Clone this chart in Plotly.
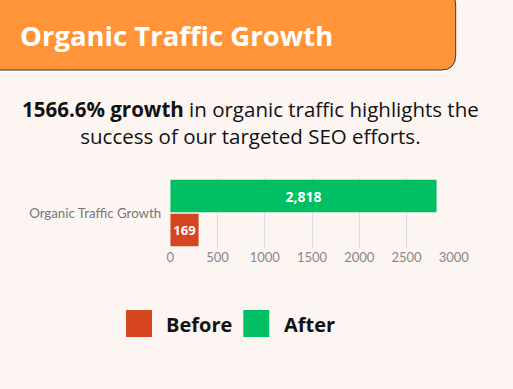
import plotly.graph_objects as go

W, H = 513, 389

# ---- data ----
categories = ["Organic Traffic Growth"]
before_values = [169]
after_values = [2818]
series_names = ["Before", "After"]
x_ticks = [0, 500, 1000, 1500, 2000, 2500, 3000]

# ---- style ----
BG = "#FDF5F2"
ORANGE = "#FF9538"
RED = "#D5451F"
GREEN = "#00BF63"
MIN_BAR = 300  # minimum visual bar length used by the original renderer


def px(x):
    return x / W


def py(y):
    return 1 - y / H


fig = go.Figure()
fig.add_trace(go.Bar(
    y=categories, x=[max(v, MIN_BAR) for v in before_values], orientation="h",
    name=series_names[0], marker=dict(color=RED, line=dict(width=0)),
    text=[f"{v:,}" for v in before_values], textposition="inside",
    insidetextanchor="middle", textangle=0,
    textfont=dict(family="Open Sans", size=16, color="white", weight="bold"),
    hoverinfo="skip",
))
fig.add_trace(go.Bar(
    y=categories, x=after_values, orientation="h",
    name=series_names[1], marker=dict(color=GREEN, line=dict(width=0)),
    text=[f"{v:,}" for v in after_values], textposition="inside",
    insidetextanchor="middle", textangle=0,
    textfont=dict(family="Open Sans", size=14, color="white", weight="bold"),
    hoverinfo="skip",
))

# header box path (rounded right corners)
x0, x1, y0, y1, r = -10, 470, -10, 70, 15
path = (f"M {px(x0)},{py(y0)} L {px(x1 - r)},{py(y0)} "
        f"Q {px(x1)},{py(y0)} {px(x1)},{py(y0 + r)} "
        f"L {px(x1)},{py(y1 - r)} Q {px(x1)},{py(y1)} {px(x1 - r)},{py(y1)} "
        f"L {px(x0)},{py(y1)} Z")

shapes = [dict(type="path", path=path, xref="paper", yref="paper",
               fillcolor=ORANGE, line=dict(color="#3a3a3a", width=1), layer="below")]

# legend squares
for xs, col in [(127, RED), (249, GREEN)]:
    shapes.append(dict(type="rect", xref="paper", yref="paper",
                       x0=px(xs), x1=px(xs + 27), y0=py(337), y1=py(310),
                       fillcolor=col, line=dict(width=0)))

annotations = [
    dict(text="<b>Organic Traffic Growth</b>", xref="paper", yref="paper",
         x=px(15), y=py(35), xanchor="left", yanchor="middle", showarrow=False,
         font=dict(family="Open Sans", size=27.5, color="white")),
    dict(text="<b>1566.6% growth</b> in organic traffic highlights the<br>success of our targeted SEO efforts.",
         xref="paper", yref="paper", x=0.5, y=py(122), xanchor="center", yanchor="middle",
         showarrow=False, align="center",
         font=dict(family="Open Sans", size=20.5, color="#111111")),
    dict(text="<b>" + series_names[0] + "</b>", xref="paper", yref="paper",
         x=px(167), y=py(324), xanchor="left", yanchor="middle", showarrow=False,
         font=dict(family="Open Sans", size=20, color="#111111")),
    dict(text="<b>" + series_names[1] + "</b>", xref="paper", yref="paper",
         x=px(289), y=py(324), xanchor="left", yanchor="middle", showarrow=False,
         font=dict(family="Open Sans", size=20, color="#111111")),
]

fig.update_layout(
    width=W, height=H, autosize=False, margin=dict(l=0, r=0, t=0, b=0),
    paper_bgcolor=BG, plot_bgcolor=BG,
    barmode="group", bargap=0.03, bargroupgap=0.04,
    showlegend=False,
    shapes=shapes, annotations=annotations,
    xaxis=dict(domain=[px(173), px(468)], range=[0, 3000],
               tickvals=x_ticks, ticktext=[str(t) for t in x_ticks],
               showgrid=True, gridcolor="#DCDCDC", gridwidth=1,
               zeroline=False, showline=False, ticks="",
               tickfont=dict(family="Lato", size=13, color="#888888")),
    yaxis=dict(domain=[py(248), py(178)],
               showgrid=False, zeroline=False, showline=False, ticks="",
               ticklabelstandoff=8,
               tickfont=dict(family="Lato", size=13.3, color="#777777")),
)

post = (
    "document.documentElement.style.overflow='hidden';"
    "document.body.style.margin='0';"
    "document.body.style.overflow='hidden';"
    "document.body.style.background='" + BG + "';"
)

fig.write_html("out.html",
               config={"displayModeBar": False, "responsive": False},
               default_width="513px", default_height="389px",
               post_script=post)
